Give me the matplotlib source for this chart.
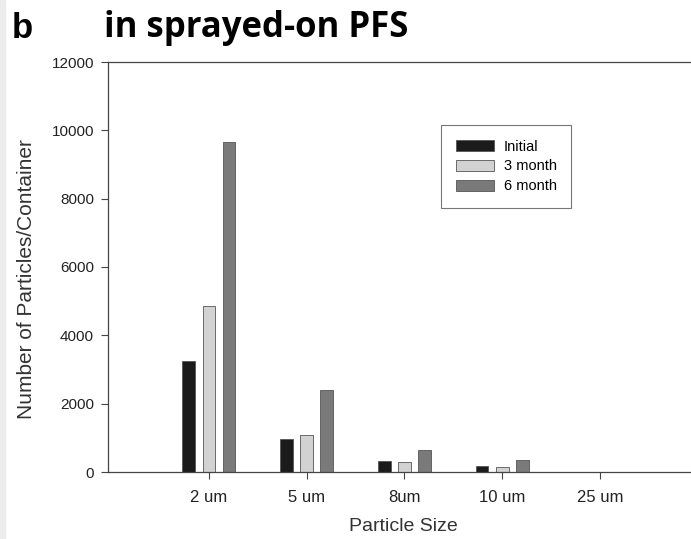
import matplotlib
matplotlib.use("Agg")
import matplotlib.pyplot as plt
from matplotlib.patches import Rectangle
import numpy as np

categories = ["2 um", "5 um", "8um", "10 um", "25 um"]
series_names = ["Initial", "3 month", "6 month"]
initial = [3250, 980, 310, 185, 0]
month3 = [4870, 1070, 280, 155, 0]
month6 = [9650, 2400, 630, 340, 0]
yticks = [0, 2000, 4000, 6000, 8000, 10000, 12000]

colors = ["#1b1b1b", "#d2d2d2", "#7a7a7a"]

plt.rcParams['font.family'] = ['Liberation Sans', 'DejaVu Sans']

fig = plt.figure(figsize=(6.91, 5.39), dpi=100)
fig.patches.append(Rectangle((0, 0), 5/691, 1, transform=fig.transFigure,
                             color="#ececec", zorder=0))
axw = 1 - 108/691 + 0.01
ax = fig.add_axes([108/691, 1 - 472/539, axw, (472 - 62)/539])

x = np.arange(len(categories))
w = 0.128
step = 0.205
for i, (vals, name, c) in enumerate(zip([initial, month3, month6], series_names, colors)):
    ax.bar(x + (i - 1) * step, vals, width=w, color=c, edgecolor="#555555",
           linewidth=0.6, label=name)

ax.set_xlim(-1.03, 5.0)
ax.set_ylim(0, 12000)
ax.set_xticks(x)
ax.set_xticklabels(categories, fontsize=12, color="#222222")
ax.set_yticks(yticks)
ax.set_yticklabels([str(v) for v in yticks], fontsize=11, color="#222222")
ax.tick_params(axis='both', direction='out', length=5, width=0.8, color="#444444")
ax.tick_params(axis='x', pad=8)
ax.tick_params(axis='y', pad=5)
for s in ["top", "bottom", "left"]:
    ax.spines[s].set_color("#444444")
    ax.spines[s].set_linewidth(0.9)
ax.spines["right"].set_visible(False)

ax.set_xlabel("Particle Size", fontsize=14, color="#333333", labelpad=9)
ax.set_ylabel("Number of Particles/Container", fontsize=15, color="#333333")
ax.yaxis.set_label_coords(-(108 - 27) / (691 * axw), (472 - 279) / 410)
ax.yaxis.label.set_va("center")

leg = ax.legend(loc="upper left", bbox_to_anchor=((441 - 108) / (691 * axw), (472 - 125) / 410),
                fontsize=10.5, frameon=True, fancybox=False, edgecolor="#555555",
                handlelength=2.6, handleheight=0.8, borderpad=1.0, labelspacing=0.4,
                handletextpad=0.7, borderaxespad=0)
leg.get_frame().set_linewidth(0.8)

fig.text(12/691, 1 - 28/539, "b", fontsize=25, fontweight="bold", va="center", ha="left",
         family=["Liberation Sans"])
fig.text(104/691, 1 - 28/539, "in sprayed-on PFS", fontsize=25, fontweight="bold",
         va="center", ha="left", family=["Open Sans", "DejaVu Sans"])

fig.savefig("out.png", dpi=100, facecolor="white")
